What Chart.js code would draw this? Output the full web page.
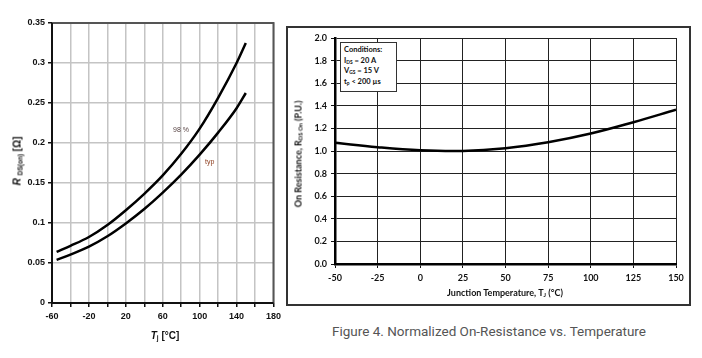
<!DOCTYPE html>
<html>
<head>
<meta charset="utf-8">
<script src="https://cdn.jsdelivr.net/npm/chart.js@4.4.1/dist/chart.umd.min.js"></script>
<style>
  html, body { margin: 0; padding: 0; background: #fff; }
  #wrap { position: relative; width: 702px; height: 358px; overflow: hidden; }
  .abs { position: absolute; white-space: nowrap; }
  .rot { transform: translate(-50%, -50%) rotate(-90deg); }
  .ctr { transform: translate(-50%, -50%); }
  .ar { font-family: "Liberation Sans", Arial, sans-serif; font-weight: bold; color: #111; }
  .cal { font-family: Lato, "Open Sans", sans-serif; font-weight: bold; color: #111; }
  sub { font-size: 65%; vertical-align: -0.25em; line-height: 0; }
  #frameR { position: absolute; left: 286px; top: 26px; width: 401px; height: 276px; border: 2px solid #333; }
  #cond { position: absolute; left: 340px; top: 42px; width: 52px; height: 46px; border: 1px solid #333;
          background: #fff; padding: 2px 0 0 3px; font-size: 7.5px; line-height: 10.6px; }
</style>
</head>
<body>
<div id="wrap">
  <canvas id="cL" class="abs" style="left:0;top:0" width="285" height="330"></canvas>
  <div id="frameR"><canvas id="cR" width="401" height="276"></canvas></div>

  <div class="abs ar rot" style="left:17px;top:161px;font-size:10px"><i>R</i> <sub>DS(on)</sub> [Ω]</div>
  <div class="abs ar ctr" style="left:165px;top:335px;font-size:10px"><i>T</i><sub>j</sub> [°C]</div>
  <div class="abs ar" style="left:173px;top:126px;font-size:7px;font-weight:normal;color:#5a4646">98 %</div>
  <div class="abs ar" style="left:205px;top:158px;font-size:7px;font-weight:normal;color:#8b3a1a">typ</div>

  <div class="abs cal rot" style="left:298px;top:154px;font-size:9px">On Resistance, R<sub>DS On</sub> (P.U.)</div>
  <div class="abs cal ctr" style="left:505px;top:292px;font-size:9px">Junction Temperature, T<sub>J</sub> (°C)</div>
  <div id="cond" class="cal">Conditions:<br>I<sub>DS</sub> = 20 A<br>V<sub>GS</sub> = 15 V<br>t<sub>p</sub> &lt; 200 µs</div>

  <div class="abs ctr" style="left:489px;top:331px;font-family:Roboto,sans-serif;font-size:13.5px;color:#555">Figure 4. Normalized On-Resistance vs. Temperature</div>
</div>
<script>
// left chart: RDS(on) vs Tj
const tjLeft = [-55, -40, -20, 0, 20, 40, 60, 80, 100, 120, 140, 150];
const r98    = [0.064, 0.0715, 0.0825, 0.0975, 0.116, 0.1365, 0.1595, 0.1865, 0.218, 0.2565, 0.300, 0.325];
const rTyp   = [0.054, 0.0605, 0.0705, 0.0835, 0.0995, 0.1175, 0.138, 0.1605, 0.1855, 0.213, 0.2435, 0.2625];
const leftXLabels = [-60, -20, 20, 60, 100, 140, 180];

// right chart: normalized on-resistance
const tjNorm = [-50, -25, 0, 25, 50, 75, 100, 125, 150];
const rNorm  = [1.072, 1.033, 1.006, 1.0, 1.025, 1.078, 1.155, 1.255, 1.365];

function pts(xs, ys){ return xs.map((x, i) => ({ x, y: ys[i] })); }

const frameLeft = {
  id: "frameLeft",
  afterDraw(chart){
    const { ctx, chartArea: a } = chart;
    ctx.save();
    ctx.lineWidth = 2;
    ctx.strokeStyle = "#555";
    ctx.beginPath();
    ctx.moveTo(a.left, a.top); ctx.lineTo(a.right, a.top); ctx.lineTo(a.right, a.bottom);
    ctx.stroke();
    ctx.strokeStyle = "#111";
    ctx.beginPath();
    ctx.moveTo(a.left, a.top); ctx.lineTo(a.left, a.bottom); ctx.lineTo(a.right, a.bottom);
    ctx.stroke();
    ctx.restore();
  }
};

const fontL = { family: "'Liberation Sans', Arial, sans-serif", weight: "bold", size: 9 };

new Chart(document.getElementById("cL"), {
  type: "line",
  data: {
    datasets: [
      { label: "98 %", data: pts(tjLeft, r98) },
      { label: "typ", data: pts(tjLeft, rTyp) },
    ]
  },
  options: {
    responsive: false,
    animation: false,
    layout: { padding: { top: 23, right: 8, left: 0, bottom: 0 } },
    elements: {
      line: { borderColor: "#000", borderWidth: 2.5, cubicInterpolationMode: "monotone" },
      point: { radius: 0 }
    },
    plugins: { legend: { display: false }, tooltip: { enabled: false } },
    scales: {
      x: {
        type: "linear", min: -60, max: 180,
        afterFit(s){ s.height = 27; },
        ticks: {
          stepSize: 20, autoSkip: false, maxRotation: 0, minRotation: 0,
          color: "#111", font: fontL, padding: 4,
          callback: (v) => leftXLabels.includes(v) ? String(v) : ""
        },
        grid: { color: "#c4c4c4", lineWidth: 1.5, tickLength: 4, tickColor: "#111" },
        border: { display: false }
      },
      y: {
        min: 0, max: 0.35,
        afterFit(s){ s.width = 52; },
        ticks: { stepSize: 0.05, color: "#111", font: fontL, padding: 3,
          callback: (v) => String(Math.round(v * 100) / 100) },
        grid: { color: "#c4c4c4", lineWidth: 1.5, tickLength: 4, tickColor: "#111" },
        border: { display: false }
      }
    }
  },
  plugins: [frameLeft]
});

const fontR = { family: "Lato, 'Open Sans', sans-serif", weight: "bold", size: 9 };

new Chart(document.getElementById("cR"), {
  type: "line",
  data: { datasets: [{ label: "norm", data: pts(tjNorm, rNorm) }] },
  options: {
    responsive: false,
    animation: false,
    layout: { padding: { top: 10, right: 13, left: 0, bottom: 0 } },
    elements: {
      line: { borderColor: "#000", borderWidth: 2.5, tension: 0.4 },
      point: { radius: 0 }
    },
    plugins: { legend: { display: false }, tooltip: { enabled: false } },
    scales: {
      x: {
        type: "linear", min: -50, max: 150,
        afterFit(s){ s.height = 40; },
        ticks: { stepSize: 25, maxRotation: 0, color: "#111", font: fontR, padding: 5 },
        grid: { color: "#222", lineWidth: 1, tickLength: 4, tickColor: "#111", borderDash: [3, 2] },
        border: { color: "#000", width: 2.5 }
      },
      y: {
        min: 0, max: 2,
        afterFit(s){ s.width = 47; },
        ticks: { stepSize: 0.2, color: "#111", font: fontR, padding: 4,
          callback: (v) => v.toFixed(1) },
        grid: { color: "#222", lineWidth: 1, tickLength: 4, tickColor: "#111", borderDash: [3, 2] },
        border: { color: "#000", width: 2.5 }
      }
    }
  }
});
</script>
</body>
</html>
